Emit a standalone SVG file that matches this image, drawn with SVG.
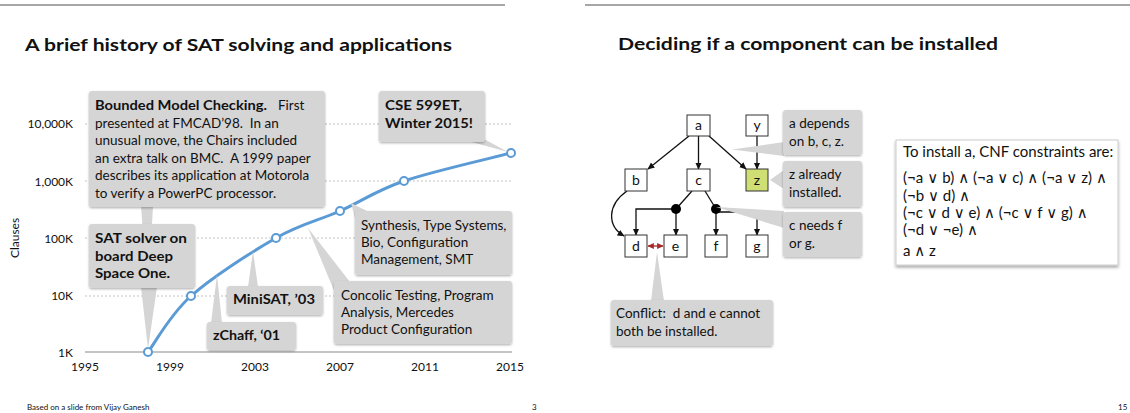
<svg xmlns="http://www.w3.org/2000/svg" width="1130" height="413" viewBox="0 0 1130 413">
<style>
text{font-family:Lato,"Open Sans","DejaVu Sans",sans-serif;fill:#111;white-space:pre}
.title{font-size:17.5px;font-weight:bold}
.ax{font-size:12px}
.ct{font-size:13.5px}
.b{font-weight:bold}
.co{fill:#d5d5d5;filter:url(#sh)}
.tail{fill:#d5d5d5}
.grid{stroke:#aaa;stroke-width:0.7;stroke-dasharray:2 2}
.node{fill:#fff;stroke:#333;stroke-width:1}
.nt{font-size:14px;text-anchor:middle}
.edge{fill:none;stroke:#111;stroke-width:1.3;marker-end:url(#arr)}
.line{fill:none;stroke:#111;stroke-width:1.3}
.rt{font-size:13.5px}
.cnf{font-size:15px}
.foot{font-size:8px}
</style>
<defs>
<filter id="sh" x="-10%" y="-10%" width="120%" height="130%">
<feDropShadow dx="0" dy="1.2" stdDeviation="0.8" flood-color="#000" flood-opacity="0.3"/>
</filter>
<filter id="sh2" x="-10%" y="-10%" width="120%" height="130%">
<feDropShadow dx="0" dy="2" stdDeviation="1.5" flood-color="#000" flood-opacity="0.35"/>
</filter>
<marker id="arr" viewBox="0 0 10 10" refX="9" refY="5" markerWidth="5.5" markerHeight="5.5" orient="auto-start-reverse">
<path d="M0,0.5 L10,5 L0,9.5 z" fill="#111"/>
</marker>
<marker id="arrR" viewBox="0 0 10 10" refX="9" refY="5" markerWidth="5" markerHeight="5" orient="auto-start-reverse">
<path d="M0,0.5 L10,5 L0,9.5 z" fill="#a52a2a"/>
</marker>
</defs>

<!-- Left slide -->
<g id="left-slide">
<line x1="0" y1="5" x2="505" y2="5" stroke="#888" stroke-width="1.5"/>
<text class="title" x="25" y="51" textLength="427" lengthAdjust="spacingAndGlyphs">A brief history of SAT solving and applications</text>

<g id="chart-axes">
<line class="grid" x1="85" y1="124" x2="512" y2="124"/>
<line class="grid" x1="85" y1="181" x2="512" y2="181"/>
<line class="grid" x1="85" y1="238" x2="512" y2="238"/>
<line class="grid" x1="85" y1="296" x2="512" y2="296"/>
<line x1="85" y1="352" x2="512" y2="352" stroke="#c4c4c4" stroke-width="2"/>
<g class="ax" text-anchor="end">
<text x="73" y="128">10,000K</text>
<text x="73" y="186">1,000K</text>
<text x="73" y="243">100K</text>
<text x="73" y="300">10K</text>
<text x="73" y="357">1K</text>
</g>
<g class="ax" text-anchor="middle">
<text x="85" y="371">1995</text>
<text x="170" y="371">1999</text>
<text x="255" y="371">2003</text>
<text x="340" y="371">2007</text>
<text x="425" y="371">2011</text>
<text x="510" y="371">2015</text>
</g>
<text class="ax" text-anchor="middle" transform="translate(19,238) rotate(-90)">Clauses</text>
</g>

<g id="curve">
<path d="M148,352 C155.2,342.7 169.7,315 191,296 C212.3,277 251.2,252.2 276,238 C300.8,223.8 318.7,220.5 340,211 C361.3,201.5 375.5,190.7 404,181 C432.5,171.3 493.2,157.7 511,153" fill="none" stroke="#5b9bd5" stroke-width="3"/>
<g fill="#fff" stroke="#5b9bd5" stroke-width="2">
<circle cx="148" cy="352" r="4"/>
<circle cx="191" cy="296" r="4"/>
<circle cx="276" cy="238" r="4"/>
<circle cx="340" cy="211" r="4"/>
<circle cx="404" cy="181" r="4"/>
<circle cx="511" cy="153" r="4"/>
</g>
</g>

<g id="callout-bmc">
<polygon class="tail" points="141,206 153,206 148,300"/>
<rect class="co" x="89" y="91" width="236" height="116" rx="3"/>
<text class="ct b" x="95" y="110" textLength="172" lengthAdjust="spacingAndGlyphs">Bounded Model Checking.</text>
<text class="ct" x="278" y="110">First</text>
<text class="ct" x="95" y="127.5">presented at FMCAD’98.  In an</text>
<text class="ct" x="95" y="145">unusual move, the Chairs included</text>
<text class="ct" x="95" y="162.5">an extra talk on BMC.  A 1999 paper</text>
<text class="ct" x="95" y="180">describes its application at Motorola</text>
<text class="ct" x="95" y="197.5">to verify a PowerPC processor.</text>
</g>

<g id="callout-sat">
<polygon class="tail" points="141,287 157,287 148,349"/>
<rect class="co" x="89" y="224" width="106" height="64" rx="3"/>
<text class="ct b" x="95" y="243" textLength="92" lengthAdjust="spacingAndGlyphs">SAT solver on</text>
<text class="ct b" x="95" y="260.5" textLength="78" lengthAdjust="spacingAndGlyphs">board Deep</text>
<text class="ct b" x="95" y="278" textLength="75" lengthAdjust="spacingAndGlyphs">Space One.</text>
</g>

<g id="callout-zchaff">
<polygon class="tail" points="211,323 222,323 217,275"/>
<rect class="co" x="207" y="322" width="89" height="28" rx="3"/>
<text class="ct b" x="213" y="340" textLength="67" lengthAdjust="spacingAndGlyphs">zChaff, ‘01</text>
</g>

<g id="callout-minisat">
<polygon class="tail" points="248,287 258,287 253,251"/>
<rect class="co" x="227" y="286" width="96" height="29" rx="3"/>
<text class="ct b" x="233" y="304" textLength="82" lengthAdjust="spacingAndGlyphs">MiniSAT, ’03</text>
</g>

<g id="callout-synthesis">
<polygon class="tail" points="351,203 356,222 369,212"/>
<rect class="co" x="355" y="211" width="157" height="64" rx="3"/>
<text class="ct" x="361" y="230">Synthesis, Type Systems,</text>
<text class="ct" x="361" y="247">Bio, Configuration</text>
<text class="ct" x="361" y="264">Management, SMT</text>
</g>

<g id="callout-concolic">
<polygon class="tail" points="308,228 335,293 350,282"/>
<rect class="co" x="334" y="281" width="178" height="63" rx="3"/>
<text class="ct" x="341" y="300">Concolic Testing, Program</text>
<text class="ct" x="341" y="317">Analysis, Mercedes</text>
<text class="ct" x="341" y="334">Product Configuration</text>
</g>

<g id="callout-cse">
<polygon class="tail" points="468,141 484,139 508,152"/>
<rect class="co" x="379" y="91" width="106" height="51" rx="3"/>
<text class="ct b" x="385" y="110" textLength="77" lengthAdjust="spacingAndGlyphs">CSE 599ET,</text>
<text class="ct b" x="385" y="128" textLength="88" lengthAdjust="spacingAndGlyphs">Winter 2015!</text>
</g>

<text class="foot" x="27" y="410">Based on a slide from Vijay Ganesh</text>
<text class="foot" x="532" y="410">3</text>
</g>

<!-- Right slide -->
<g id="right-slide">
<line x1="585" y1="5" x2="1130" y2="5" stroke="#888" stroke-width="1.5"/>
<text class="title" x="618" y="50" textLength="380" lengthAdjust="spacingAndGlyphs">Deciding if a component can be installed</text>

<g id="connectors">
<path class="edge" d="M689,136 L648,169"/>
<path class="edge" d="M698.5,136 L698.5,169"/>
<path class="edge" d="M709,136 L746,169"/>
<path class="edge" d="M757,136 L757,169"/>
<path class="edge" d="M627,191 C607,205 607,226 624,236"/>
<path class="line" d="M692,191 L676,209"/>
<path class="line" d="M705,191 L716,209"/>
<path class="edge" d="M676,209 L636,209 L636,235"/>
<path class="edge" d="M676,209 L676,235"/>
<path class="edge" d="M716,209 L716,235"/>
<path class="edge" d="M716,212 L757,212 L757,235"/>
<path d="M648,246 L663,246" fill="none" stroke="#a52a2a" stroke-width="1.3" marker-start="url(#arrR)" marker-end="url(#arrR)"/>
<circle cx="676" cy="209" r="5" fill="#000"/>
<circle cx="716" cy="209" r="5" fill="#000"/>
</g>

<g id="node-a"><rect class="node" x="687" y="115" width="23" height="21"/><text class="nt" x="698.5" y="130">a</text></g>
<g id="node-y"><rect class="node" x="746" y="115" width="22" height="21"/><text class="nt" x="757" y="130">y</text></g>
<g id="node-b"><rect class="node" x="625" y="169" width="22" height="22"/><text class="nt" x="636" y="185">b</text></g>
<g id="node-c"><rect class="node" x="687" y="169" width="23" height="22"/><text class="nt" x="698.5" y="185">c</text></g>
<g id="node-z"><rect class="node" x="746" y="169" width="22" height="22" style="fill:#d0df74"/><text class="nt" x="757" y="185">z</text></g>
<g id="node-d"><rect class="node" x="625" y="235" width="22" height="22"/><text class="nt" x="636" y="251">d</text></g>
<g id="node-e"><rect class="node" x="664" y="235" width="23" height="22"/><text class="nt" x="675.5" y="251">e</text></g>
<g id="node-f"><rect class="node" x="705" y="235" width="22" height="22"/><text class="nt" x="716" y="251">f</text></g>
<g id="node-g"><rect class="node" x="746" y="235" width="22" height="22"/><text class="nt" x="757" y="251">g</text></g>

<g id="callout-depends">
<polygon class="tail" points="732,149.5 784,142 784,156"/>
<rect class="co" x="783" y="110" width="79" height="45" rx="3"/>
<text class="rt" x="789" y="128">a depends</text>
<text class="rt" x="789" y="146">on b, c, z.</text>
</g>
<g id="callout-installed">
<polygon class="tail" points="770,180 784,170 784,189"/>
<rect class="co" x="783" y="161" width="79" height="46" rx="3"/>
<text class="rt" x="789" y="179">z already</text>
<text class="rt" x="789" y="197">installed.</text>
</g>
<g id="callout-needs">
<polygon class="tail" points="716,207 784,211 784,228"/>
<rect class="co" x="783" y="212" width="79" height="45" rx="3"/>
<text class="rt" x="789" y="230">c needs f</text>
<text class="rt" x="789" y="248">or g.</text>
</g>
<g id="callout-conflict">
<polygon class="tail" points="651,301 664,301 657,252"/>
<rect class="co" x="611" y="300" width="162" height="46" rx="3"/>
<text class="rt" x="616" y="318">Conflict:  d and e cannot</text>
<text class="rt" x="616" y="336">both be installed.</text>
</g>

<g id="cnf-box">
<rect x="896" y="140" width="222" height="125" fill="#fff" stroke="#ccc" stroke-width="1" filter="url(#sh2)"/>
<text class="cnf" x="903" y="157">To install a, CNF constraints are:</text>
<text class="cnf" x="903" y="183" textLength="204" lengthAdjust="spacing">(¬a ∨ b) ∧ (¬a ∨ c) ∧ (¬a ∨ z) ∧</text>
<text class="cnf" x="903" y="200.5">(¬b ∨ d) ∧</text>
<text class="cnf" x="903" y="218">(¬c ∨ d ∨ e) ∧ (¬c ∨ f ∨ g) ∧</text>
<text class="cnf" x="903" y="235">(¬d ∨ ¬e) ∧</text>
<text class="cnf" x="903" y="256">a ∧ z</text>
</g>

<text class="foot" x="1118" y="410">15</text>
</g>
</svg>
